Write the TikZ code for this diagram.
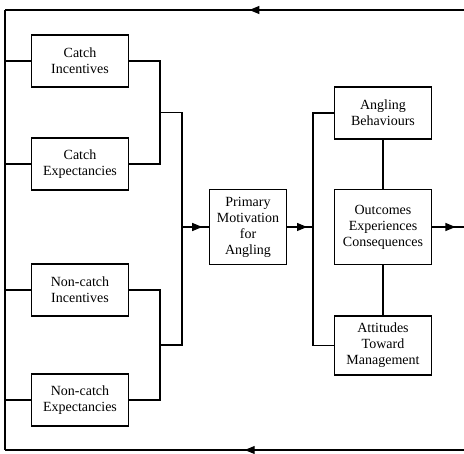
\documentclass[tikz,border=0pt]{standalone}
\usepackage{fontspec}
\setmainfont{Liberation Serif}
\usepackage{tikz}
\usetikzlibrary{arrows.meta, positioning, calc, decorations.markings}

\begin{document}
\begin{tikzpicture}[
  x=1pt, y=-1pt,
  font=\fontsize{14}{16}\selectfont,
  box/.style={draw, line width=1.1pt, minimum width=97pt, minimum height=52pt,
              align=center, inner sep=2pt},
  link/.style={line width=1.1pt},
  midarr/.style={link, postaction={decorate},
    decoration={markings, mark=at position #1 with
      {\arrow{Triangle[length=10pt,width=8pt]}}}}
]
  \clip (0,0) rectangle (464,454);
  % motive boxes on the left
  \node[box] (cinc) at (80,61)  {Catch\\Incentives};
  \node[box] (cexp) at (80,164) {Catch\\Expectancies};
  \node[box] (ninc) at (80,290) {Non-catch\\Incentives};
  \node[box] (nexp) at (80,400) {Non-catch\\Expectancies};
  % centre and right
  \node[box, minimum width=77pt, minimum height=75pt] (prim) at (248,227)
    {Primary\\Motivation\\for\\Angling};
  \node[box] (behav) at (383,113) {Angling\\Behaviours};
  \node[box, minimum height=75pt] (outc) at (383,227)
    {Outcomes\\Experiences\\Consequences};
  \node[box, minimum height=59pt] (attit) at (383,345.5)
    {Attitudes\\Toward\\Management};
  % junctions and loop corners
  \coordinate (jup) at (160,112.5);
  \coordinate (jlo) at (160,345);
  \coordinate (jin) at (182,227);
  \coordinate (jout) at (313,227);
  \coordinate (tl) at (5,10);
  \coordinate (bl) at (5,450);
  \coordinate (tr) at (466,10);
  \coordinate (br) at (466,450);
  % brackets
  \draw[link] (cinc.east) -| (jup) |- (cexp.east);
  \draw[link] (ninc.east) -| (jlo) |- (nexp.east);
  \draw[link] (jup) -- (jup -| jin) -- (jlo -| jin) -- (jlo);
  \draw[midarr=0.75] (jin) -- (prim.west);
  \draw[midarr=0.77] (prim.east) -- (jout);
  \draw[link] (behav.west) -| (jout) |- (attit.west);
  \draw[link] (behav) -- (outc);
  \draw[link] (outc) -- (attit);
  \draw[midarr=0.69] (outc.east) -- (outc.east -| tr);
  % feedback loop
  \draw[midarr=0.47] (tr) -- (tl);
  \draw[midarr=0.48] (br) -- (bl);
  \draw[link] (tl) -- (bl);
  \draw[link] (tr) -- (br);
  \foreach \b in {cinc,cexp,ninc,nexp}
    \draw[link] (\b.west) -- (\b.west -| tl);
\end{tikzpicture}
\end{document}
